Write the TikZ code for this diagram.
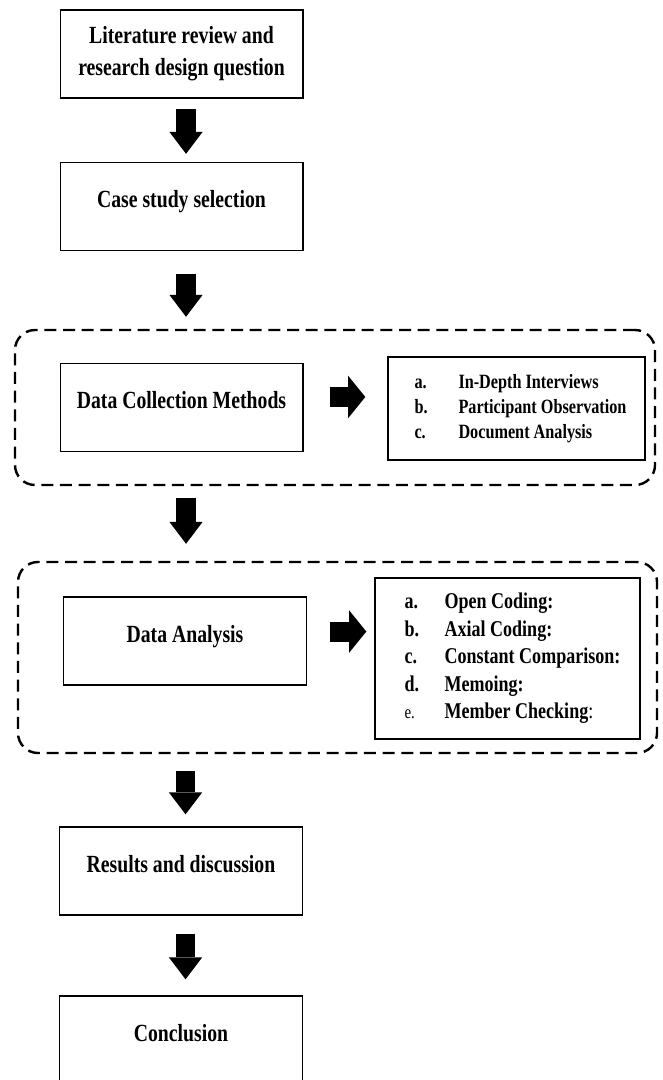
\documentclass[tikz,border=0pt]{standalone}
\usepackage{fontspec}
\setmainfont{Liberation Serif}[FakeStretch=0.8]
\usetikzlibrary{arrows.meta, positioning}

\tikzset{
  stepbox/.style={draw, line width=1pt, minimum width=182pt, minimum height=66pt,
    font=\fontsize{18.5pt}{24pt}\selectfont\bfseries},
  toptext/.style={text height=33.75pt, text depth=32.25pt, inner ysep=0pt},
  listbox/.style={draw, line width=1pt, align=left, inner sep=0pt},
  groupbox/.style={draw, line width=1.8pt, dash pattern=on 9pt off 5pt,
    rounded corners=15pt, inner sep=0pt},
  blockarrow/.style={line width=14.5pt,
    -{Triangle[length=16.5pt,width=25pt,line width=0pt]}},
  sidearrow/.style={line width=15pt,
    -{Triangle[length=13pt,width=32pt,line width=0pt]}},
}
\newcommand{\itm}[1]{\hspace*{6pt}\makebox[33pt][l]{#1}}
\newcommand{\itmb}[1]{\hspace*{7.5pt}\makebox[30pt][l]{#1}}

\begin{document}
\begin{tikzpicture}[x=0.75pt, y=-0.75pt]
\useasboundingbox (0,0) rectangle (662,1080);
\clip (0,0) rectangle (662,1080);

% dashed groups
\node[groupbox, minimum width=480pt, minimum height=116.25pt] (collect) at (335,407.5) {};
\node[groupbox, minimum width=479.25pt, minimum height=143.25pt] (analyse) at (337.5,657.5) {};

% stages
\node[stepbox, align=center] (lit) at (181.5,54) {Literature review and\\research design question};
\node[stepbox, toptext] (case) at (181.5,206.5) {Case study selection};
\node[stepbox, toptext] (dcm) at (181.5,407.5) {Data Collection Methods};
\node[stepbox, toptext] (da) at (185,641) {Data Analysis};
\node[stepbox, toptext] (res) at (181,871) {Results and discussion};
\node[stepbox, toptext] (concl) at (181,1040) {Conclusion};

% lists
\node[listbox, minimum width=192.75pt, minimum height=77.25pt,
  font=\fontsize{15.2pt}{18.75pt}\selectfont\bfseries] (methods) at (516.5,408.5)
  {\itm{a.}In-Depth Interviews\\\itm{b.}Participant Observation\\\itm{c.}Document Analysis};
\node[listbox, minimum width=198.75pt, minimum height=120.75pt,
  font=\fontsize{16.9pt}{20.6pt}\selectfont\bfseries] (steps) at (507.5,658.5)
  {\itmb{a.}Open Coding:\\\itmb{b.}Axial Coding:\\\itmb{c.}Constant Comparison:\\
   \itmb{d.}Memoing:\\\itmb{{\mdseries\fontsize{14pt}{15pt}\selectfont e.}}Member Checking{\mdseries:}};

% arrows
\draw[blockarrow, shorten <=7.5pt, shorten >=6pt] ([xshift=3.4pt]lit.south) -- ([xshift=3.4pt]case.north);
\draw[blockarrow, shorten <=17.25pt, shorten >=9pt] ([xshift=3.4pt]case.south) -- ([xshift=3.4pt]case.south |- collect.north);
\draw[blockarrow, shorten <=9pt, shorten >=12.75pt] ([xshift=3.4pt]dcm.center |- collect.south) -- ([xshift=3.4pt]dcm.center |- analyse.north);
\draw[blockarrow, shorten <=12.75pt, shorten >=9pt] ([xshift=3.4pt]res.north |- analyse.south) -- ([xshift=3.4pt]res.north);
\draw[blockarrow, shorten <=13.5pt, shorten >=12pt] ([xshift=3.4pt]res.south) -- ([xshift=3.4pt]concl.north);
\draw[sidearrow, shorten <=19.5pt, shorten >=16.5pt] ([yshift=7.9pt]dcm.east) -- ([yshift=7.9pt]dcm.east -| methods.west);
\draw[sidearrow, shorten <=17.25pt, shorten >=6pt] ([yshift=7.1pt]da.east) -- ([yshift=7.1pt]da.east -| steps.west);
\end{tikzpicture}
\end{document}
